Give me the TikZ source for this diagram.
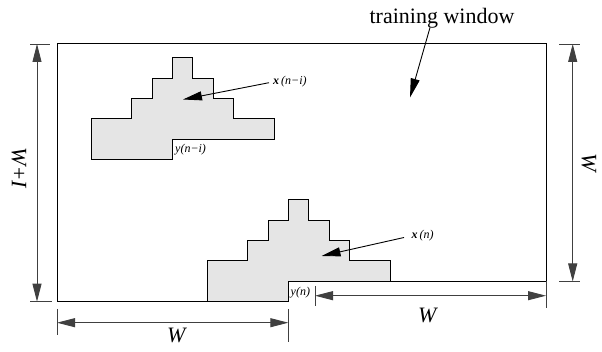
\documentclass[tikz,border=0pt]{standalone}
\usepackage{fontspec}
\setmainfont{Liberation Serif}
\usetikzlibrary{arrows.meta}
\begin{document}
\begin{tikzpicture}[x=1pt,y=-1pt,
  edge/.style={line width=1pt, line join=miter},
  dimline/.style={line width=0.9pt, black!75, {Triangle[length=18pt,width=9pt]}-{Triangle[length=18pt,width=9pt]}},
  tick/.style={line width=0.9pt, black!75},
  pointer/.style={line width=0.9pt, -{Triangle[length=19pt,width=9pt]}},
  stairs/.style={fill=black!10, draw=black, line width=1pt},
  big/.style={font=\fontsize{22}{24}\selectfont, inner sep=0pt},
  small/.style={font=\fontsize{12}{14}\selectfont, inner sep=0pt}]
\useasboundingbox (0,0) rectangle (602,352);

% staircase shapes
\path[stairs] (91,119) -- (131.7,119) -- (131.7,98.7) -- (152.3,98.7) -- (152.3,78.3) -- (172.3,78.3) -- (172.3,58) -- (192.7,58) -- (192.7,78.3) -- (213.3,78.3) -- (213.3,98.7) -- (233.3,98.7) -- (233.3,119) -- (274.3,119) -- (274.3,139.3) -- (172.3,139.3) -- (172.3,159.7) -- (91,159.7) -- cycle;
\begin{scope}[shift={(116,142)}]
\path[stairs] (91,119) -- (131.7,119) -- (131.7,98.7) -- (152.3,98.7) -- (152.3,78.3) -- (172.3,78.3) -- (172.3,58) -- (192.7,58) -- (192.7,78.3) -- (213.3,78.3) -- (213.3,98.7) -- (233.3,98.7) -- (233.3,119) -- (274.3,119) -- (274.3,139.3) -- (172.3,139.3) -- (172.3,159.7) -- (91,159.7) -- cycle;
\end{scope}

% training window
\draw[edge] (57,44) -- (546,44) -- (546,281.5) -- (288.3,281.5) -- (288.3,301.7) -- (57,301.7) -- cycle;

% labels
\node[big] (tw) at (442,18) {training window};
\node[small, anchor=west] (xni) at (273,82) {\textbf{\textit{x}}\,\textit{(n−i)}};
\node[small, anchor=west] (xn) at (411.5,236) {\textbf{\textit{x}}\,\textit{(n)}};
\node[small, anchor=west] (yni) at (175,150) {\textit{y(n−i)}};
\node[small, anchor=west] (yn) at (290.5,293) {\textit{y(n)}};
\node[big] (Wl) at (177,335) {\textit{W}};
\node[big] (Wr) at (428,315) {\textit{W}};
\node[big, rotate=-90] (WI) at (19,168) {\textit{W}+\textit{I}};
\node[big, rotate=-90] (Wv) at (589,163) {\textit{W}};

% pointers
\coordinate (twtip) at (410,97.5);
\coordinate (xnitip) at (183,99.5);
\coordinate (xntip) at (321.5,256);
\coordinate (twstart) at (430,27.5);
\coordinate (xnistart) at (269,82.7);
\coordinate (xnstart) at (404,237.5);
\draw[pointer] (twstart) -- (twtip);
\draw[pointer] (xnistart) -- (xnitip);
\draw[pointer] (xnstart) -- (xntip);

% left vertical dimension
\coordinate (lvt) at (37,44);
\coordinate (lvb) at (37,301.7);
\draw[tick] (30,44) -- (50,44);
\draw[tick] (30,301.7) -- (52,301.7);
\draw[dimline] (lvt) -- (lvb);

% right vertical dimension
\coordinate (rvt) at (572.7,44);
\coordinate (rvb) at (572.7,281.5);
\draw[tick] (559,44) -- (580,44);
\draw[tick] (559,281.5) -- (580,281.5);
\draw[dimline] (rvt) -- (rvb);

% bottom-left horizontal dimension
\coordinate (bll) at (57,322.7);
\coordinate (blr) at (288.3,322.7);
\draw[tick] (57,309) -- (57,335);
\draw[tick] (288.3,309) -- (288.3,342);
\draw[dimline] (bll) -- (blr);

% bottom-right horizontal dimension
\coordinate (brl) at (315,295.7);
\coordinate (brr) at (546,295.7);
\draw[tick] (315,286) -- (315,306.5);
\draw[tick] (546,281.5) -- (546,308);
\draw[dimline] (brl) -- (brr);
\end{tikzpicture}
\end{document}
